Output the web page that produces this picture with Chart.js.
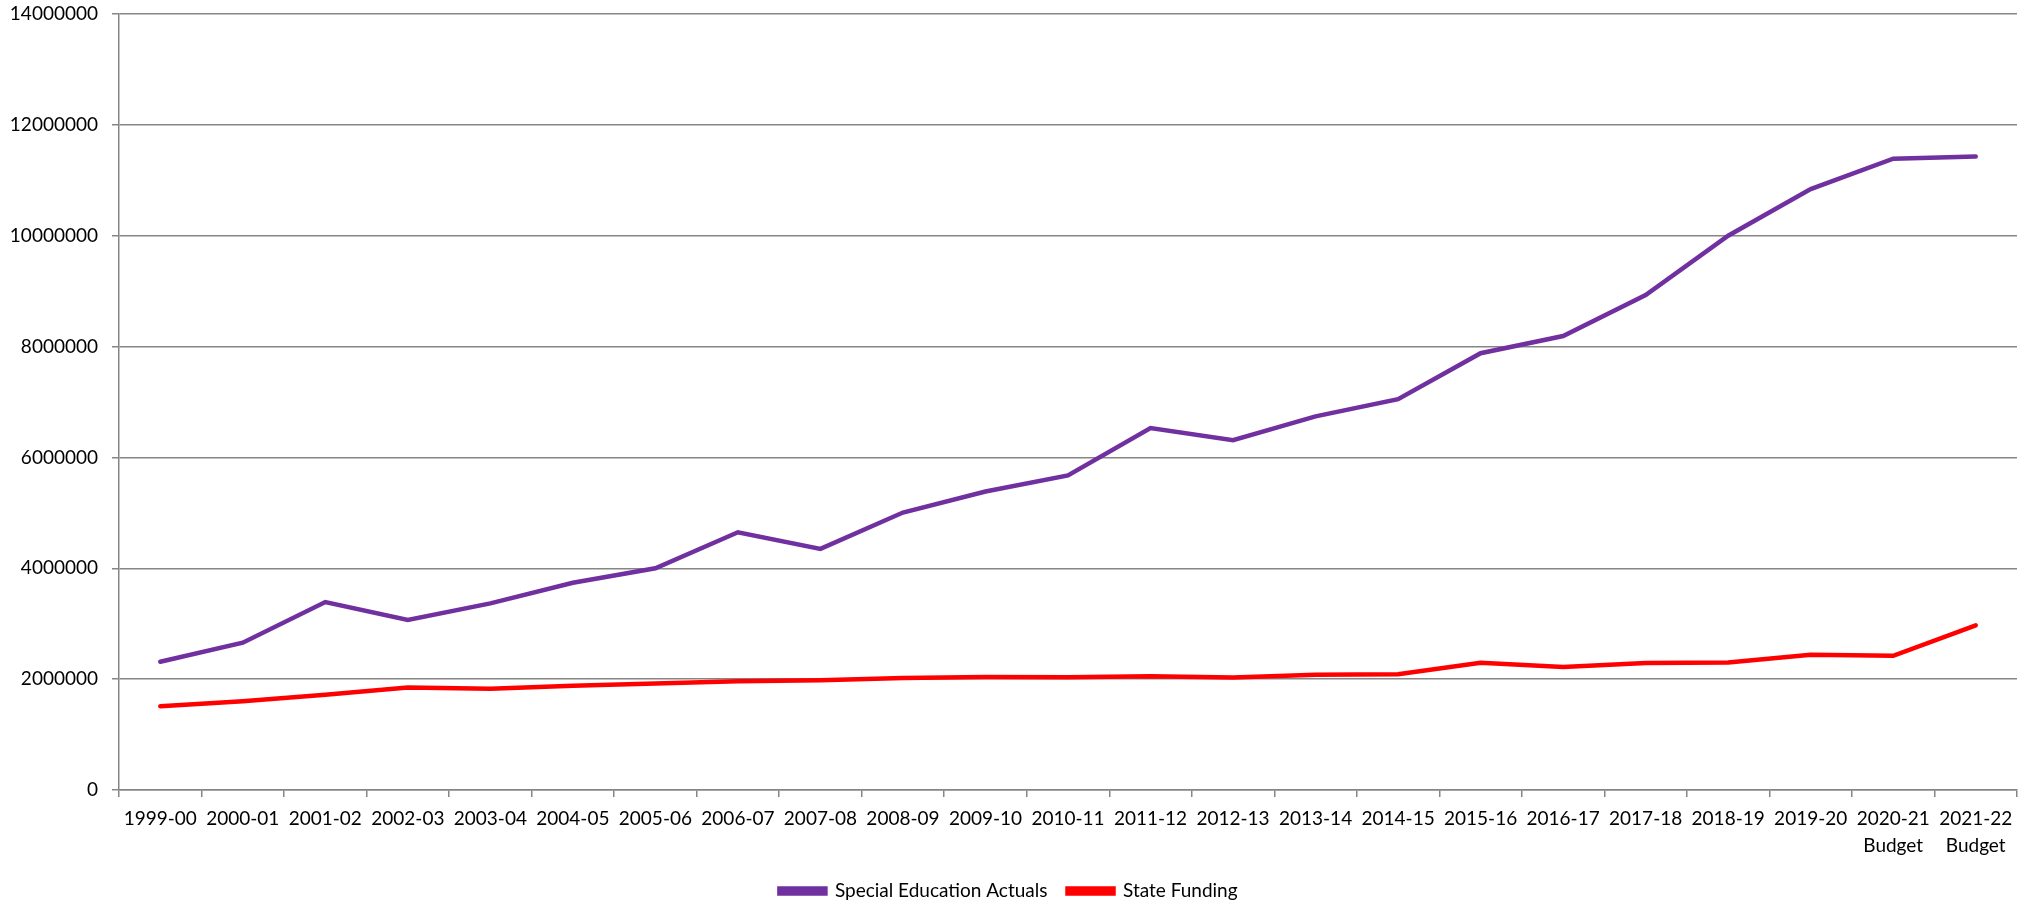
<!DOCTYPE html>
<html>
<head>
<meta charset="utf-8">
<script src="https://cdn.jsdelivr.net/npm/chart.js@4/dist/chart.umd.min.js"></script>
<style>
  html, body { margin: 0; padding: 0; background: #fff; }
  #wrap { width: 2030px; height: 905px; position: relative; }
</style>
</head>
<body>
<div id="wrap"><canvas id="fundingChart"></canvas></div>
<script>
const years = [
  "1999-00", "2000-01", "2001-02", "2002-03", "2003-04", "2004-05",
  "2005-06", "2006-07", "2007-08", "2008-09", "2009-10", "2010-11",
  "2011-12", "2012-13", "2013-14", "2014-15", "2015-16", "2016-17",
  "2017-18", "2018-19", "2019-20", ["2020-21", "Budget"], ["2021-22", "Budget"],
];
const specialEdActuals = [
  2313000, 2657000, 3390000, 3066000, 3366000, 3740000, 4000000, 4650000,
  4350000, 5006000, 5386000, 5675000, 6530000, 6310000, 6740000, 7050000,
  7880000, 8190000, 8930000, 10000000, 10840000, 11390000, 11430000,
];
const stateFunding = [
  1512000, 1600000, 1720000, 1850000, 1825000, 1880000, 1920000, 1960000,
  1980000, 2020000, 2040000, 2035000, 2054000, 2030000, 2080000, 2090000,
  2295000, 2220000, 2290000, 2300000, 2440000, 2420000, 2970000,
];
const yTicks = [0, 2000000, 4000000, 6000000, 8000000, 10000000, 12000000, 14000000];

const axisGray = "#868686";
const font = { family: "Lato", size: 19 };

const ctx = document.getElementById("fundingChart").getContext("2d");
const fundingChart = new Chart(ctx, {
  type: "line",
  data: {
    labels: years,
    datasets: [
      {
        label: "Special Education Actuals",
        data: specialEdActuals,
        borderColor: "#7030A0",
        backgroundColor: "#7030A0",
        borderWidth: 4.5,
        pointRadius: 0,
        fill: false,
        tension: 0,
        borderCapStyle: "round",
      },
      {
        label: "State Funding",
        data: stateFunding,
        borderColor: "#FF0000",
        backgroundColor: "#FF0000",
        borderWidth: 4.5,
        pointRadius: 0,
        fill: false,
        tension: 0,
        borderCapStyle: "round",
      },
    ],
  },
  options: {
    responsive: true,
    maintainAspectRatio: false,
    animation: false,
    layout: { padding: { top: 0, right: 13, bottom: -5.5, left: 0 } },
    plugins: {
      tooltip: { enabled: false },
      legend: {
        position: "bottom",
        labels: {
          color: "#000",
          font: font,
          boxWidth: 46,
          boxHeight: 5,
          padding: 20,
        },
      },
    },
    scales: {
      x: {
        offset: true,
        grid: {
          offset: true,
          drawOnChartArea: false,
          drawTicks: true,
          tickLength: 7,
          color: axisGray,
          lineWidth: 1.5,
        },
        border: { color: axisGray, width: 1.5 },
        ticks: {
          color: "#000",
          font: { family: "Lato", size: 19, lineHeight: 1.45 },
          padding: 8,
          maxRotation: 0,
          autoSkip: false,
        },
        afterFit: (scale) => { scale.height = 71.5; },
      },
      y: {
        min: 0,
        max: 14000000,
        afterBuildTicks: (scale) => {
          scale.ticks = yTicks.map((v) => ({ value: v }));
        },
        grid: { color: axisGray, lineWidth: 1.5, tickLength: 7 },
        border: { color: axisGray, width: 1.5 },
        ticks: {
          color: "#000",
          font: font,
          padding: 14,
          callback: (v) => String(v),
        },
        afterFit: (scale) => {
          scale.width = 119;
          scale.paddingTop = 14;
          scale.paddingBottom = 0;
        },
      },
    },
  },
});
</script>
</body>
</html>
